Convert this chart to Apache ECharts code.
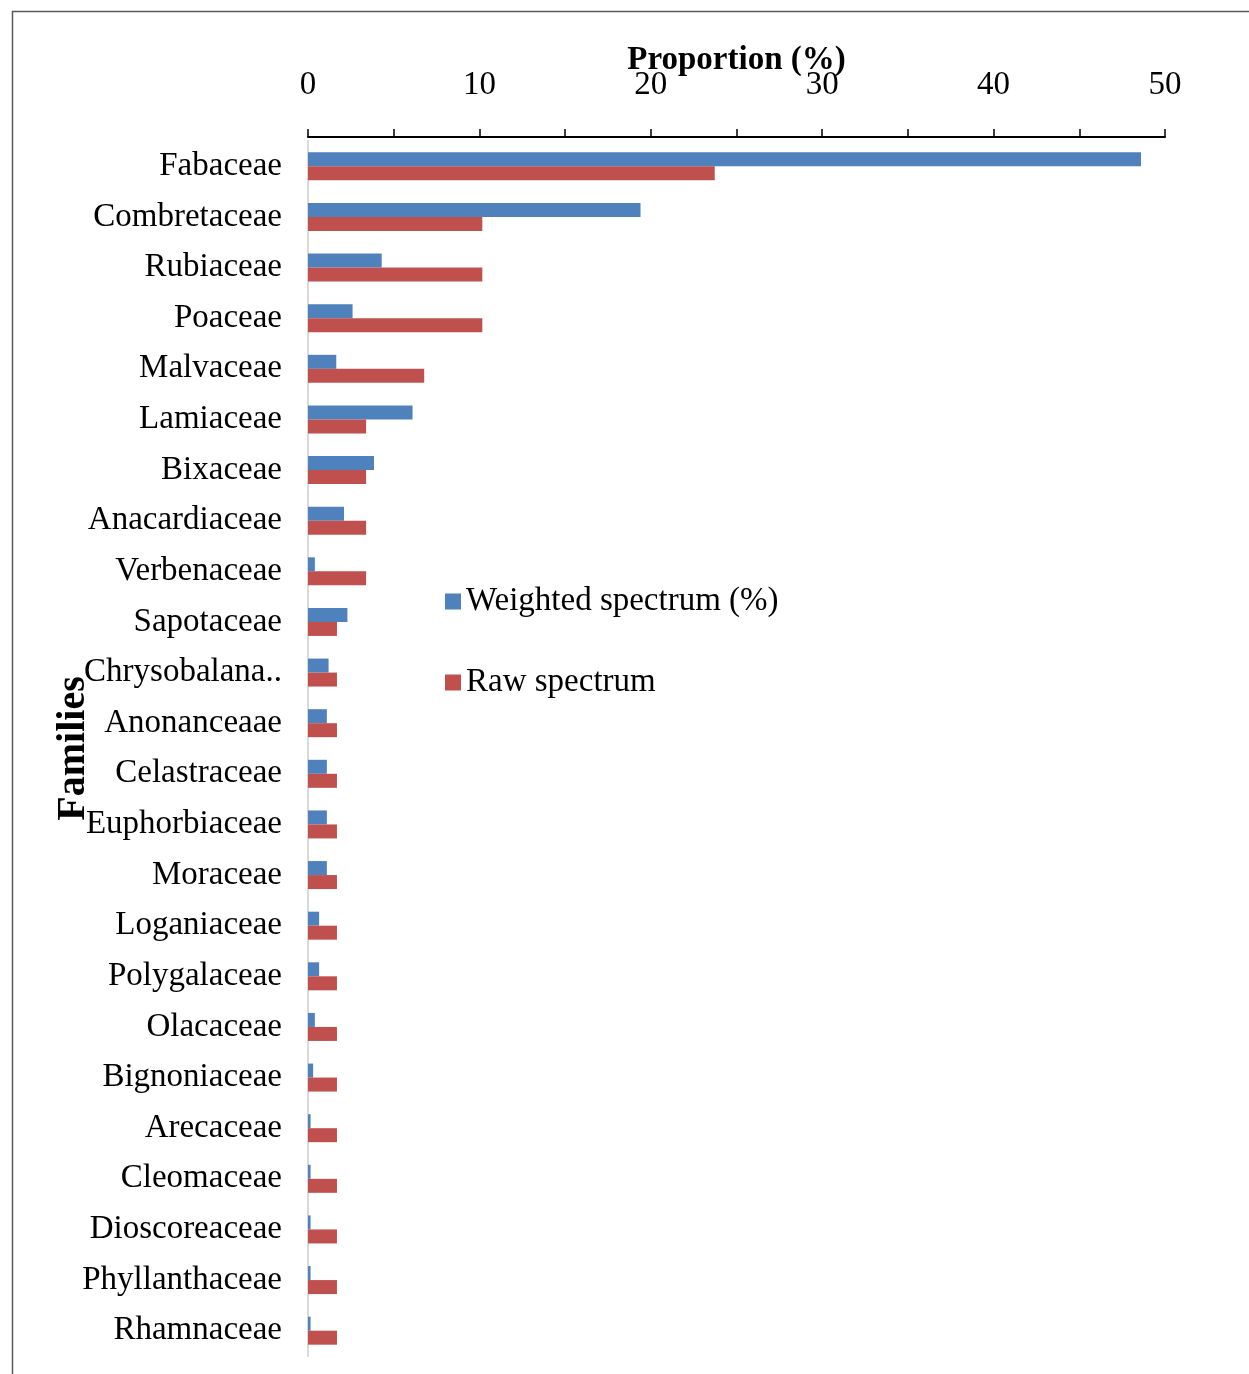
<!DOCTYPE html>
<html>
<head>
<meta charset="utf-8">
<script src="https://cdn.jsdelivr.net/npm/echarts@6/dist/echarts.min.js"></script>
<style>
  html, body { margin: 0; padding: 0; background: #fff; }
  #chart { width: 1249px; height: 1374px; }
</style>
</head>
<body>
<div id="chart"></div>
<script>
// Plant families, top to bottom
const families = [
  'Fabaceae', 'Combretaceae', 'Rubiaceae', 'Poaceae', 'Malvaceae', 'Lamiaceae',
  'Bixaceae', 'Anacardiaceae', 'Verbenaceae', 'Sapotaceae', 'Chrysobalana..',
  'Anonanceaae', 'Celastraceae', 'Euphorbiaceae', 'Moraceae', 'Loganiaceae',
  'Polygalaceae', 'Olacaceae', 'Bignoniaceae', 'Arecaceae', 'Cleomaceae',
  'Dioscoreaceae', 'Phyllanthaceae', 'Rhamnaceae'
];

// Weighted spectrum (%)
const weighted = [
  48.6, 19.4, 4.3, 2.6, 1.65, 6.1,
  3.85, 2.1, 0.4, 2.3, 1.2,
  1.1, 1.1, 1.1, 1.1, 0.65,
  0.65, 0.4, 0.3, 0.15, 0.15,
  0.15, 0.15, 0.15
];

// Raw spectrum (%)
const raw = [
  23.73, 10.17, 10.17, 10.17, 6.78, 3.39,
  3.39, 3.39, 3.39, 1.69, 1.69,
  1.69, 1.69, 1.69, 1.69, 1.69,
  1.69, 1.69, 1.69, 1.69, 1.69,
  1.69, 1.69, 1.69
];

const xTicks = { min: 0, max: 50, interval: 10 };

const SERIF = '"Liberation Serif", "Times New Roman", serif';

const chart = echarts.init(document.getElementById('chart'), null, { renderer: 'canvas' });

chart.setOption({
  animation: false,
  backgroundColor: '#ffffff',
  textStyle: { fontFamily: SERIF, color: '#000' },
  graphic: [{
    type: 'rect',
    shape: { x: 12.5, y: 11.5, width: 1300, height: 1400 },
    style: { fill: 'none', stroke: '#5a5a5a', lineWidth: 1.5 },
    silent: true,
    z: -1
  }],
  grid: { left: 308, right: 84, top: 141, bottom: 18, containLabel: false },
  legend: {
    orient: 'vertical',
    left: 440,
    top: 580,
    itemWidth: 16,
    itemHeight: 16,
    itemGap: 48,
    icon: 'rect',
    textStyle: { fontFamily: SERIF, fontSize: 33, color: '#000' },
    data: ['Weighted spectrum (%)', 'Raw spectrum']
  },
  xAxis: {
    type: 'value',
    position: 'top',
    offset: 4,
    min: xTicks.min,
    max: xTicks.max,
    interval: xTicks.interval,
    name: 'Proportion (%)',
    nameLocation: 'middle',
    nameGap: 60,
    nameMoveOverlap: false,
    nameTextStyle: { fontFamily: SERIF, fontSize: 33, fontWeight: 'bold', color: '#000' },
    axisLine: { show: true, lineStyle: { color: '#000', width: 2 } },
    axisTick: { show: true, length: 8, lineStyle: { color: '#000', width: 1.5 } },
    minorTick: { show: true, splitNumber: 2, length: 8, lineStyle: { color: '#000', width: 1.5 } },
    axisLabel: { fontFamily: SERIF, fontSize: 33, color: '#000', margin: 35 },
    splitLine: { show: false }
  },
  yAxis: {
    type: 'category',
    inverse: true,
    data: families,
    name: 'Families',
    nameLocation: 'middle',
    nameGap: 214,
    nameMoveOverlap: false,
    nameTextStyle: { fontFamily: SERIF, fontSize: 40, fontWeight: 'bold', color: '#000' },
    axisLine: { show: true, lineStyle: { color: '#d9d9d9', width: 2 } },
    axisTick: { show: false },
    axisLabel: { fontFamily: SERIF, fontSize: 33, color: '#000', margin: 26, interval: 0, padding: [6, 0, 0, 0] },
    splitLine: { show: false }
  },
  series: [
    {
      name: 'Weighted spectrum (%)',
      type: 'bar',
      data: weighted,
      barWidth: 14,
      barGap: '0%',
      itemStyle: { color: '#4f81bd' }
    },
    {
      name: 'Raw spectrum',
      type: 'bar',
      data: raw,
      barWidth: 14,
      barGap: '0%',
      itemStyle: { color: '#c0504d' }
    }
  ]
});
</script>
</body>
</html>
